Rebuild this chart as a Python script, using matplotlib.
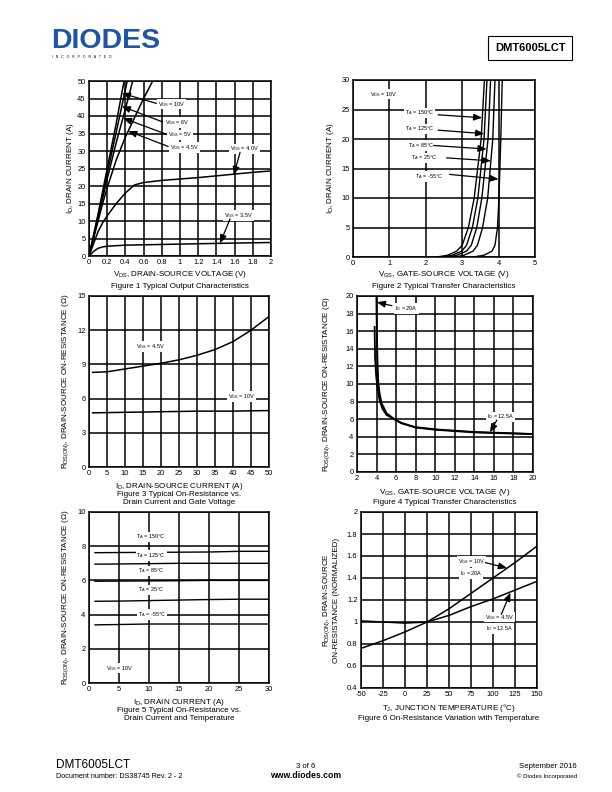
import numpy as np
import matplotlib.pyplot as plt
from matplotlib.lines import Line2D

plt.rcParams['font.family'] = ['Liberation Sans', 'DejaVu Sans']
plt.rcParams['mathtext.default'] = 'regular'
plt.rcParams['axes.unicode_minus'] = False

# ---- Figure 1 data: output characteristics
vds_10 = [0, 0.05, 0.1, 0.15, 0.2, 0.3, 0.385]
id_10 = [0, 6, 12, 18.5, 25, 38, 50]
vds_6 = [0, 0.05, 0.1, 0.15, 0.2, 0.3, 0.42]
id_6 = [0, 5.5, 11.5, 17.5, 23.5, 35.5, 50]
vds_5 = [0, 0.05, 0.1, 0.15, 0.2, 0.3, 0.4, 0.48]
id_5 = [0, 5.3, 11, 16.5, 22, 32.5, 42, 50]
vds_45 = [0, 0.05, 0.1, 0.15, 0.2, 0.3, 0.4, 0.5, 0.6, 0.7]
id_45 = [0, 5, 10, 15, 19.5, 27.5, 34, 39.5, 45, 50]
vds_40 = [0, 0.05, 0.1, 0.15, 0.2, 0.3, 0.4, 0.5, 0.6, 0.8, 1.0, 1.2, 1.4, 1.6, 1.8, 2.0]
id_40 = [0, 3.5, 7, 9.5, 11.5, 15, 18, 20.3, 21, 21.6, 22, 22.4, 22.9, 23.4, 23.9, 24.3]
vds_35 = [0, 0.05, 0.1, 0.15, 0.2, 0.4, 0.8, 1.2, 1.6, 2.0]
id_35 = [0, 1.3, 2.2, 2.6, 2.8, 3.1, 3.3, 3.5, 3.7, 3.85]

# ---- Figure 2 data: transfer characteristics (VDS = 10V)
id_tr = [0, 0.3, 1, 2, 5, 10, 20, 30]
vgs_150 = [2.3, 2.6, 2.85, 3.0, 3.17, 3.33, 3.52, 3.61]
vgs_125 = [2.45, 2.72, 2.99, 3.12, 3.28, 3.43, 3.60, 3.68]
vgs_85 = [2.6, 2.85, 3.12, 3.25, 3.40, 3.54, 3.71, 3.78]
vgs_25 = [2.8, 3.05, 3.30, 3.42, 3.56, 3.70, 3.84, 3.90]
vgs_m55 = [3.3, 3.6, 3.82, 3.90, 3.97, 4.01, 4.06, 4.10]

# ---- Figure 3 data: RDS(on) vs ID
id_r = [1, 5, 10, 15, 20, 25, 30, 35, 40, 45, 50]
r_45 = [8.3, 8.35, 8.6, 8.85, 9.1, 9.4, 9.8, 10.3, 11.0, 12.0, 13.2]
r_10 = [4.75, 4.77, 4.8, 4.82, 4.85, 4.87, 4.9, 4.9, 4.9, 4.93, 4.95]

# ---- Figure 4 data: RDS(on) vs VGS
vgs_20a = [3.98, 4.0, 4.05, 4.1, 4.18, 4.3, 4.52, 5.03, 5.71, 6.5, 7.5, 8, 10, 12, 14, 16, 18, 20]
r_20a = [20.5, 18, 15, 12.5, 10.1, 9, 7.8, 6.67, 6.1, 5.6, 5.25, 5.1, 4.85, 4.7, 4.55, 4.47, 4.4, 4.32]
vgs_125a = [3.8, 3.85, 3.95, 4.1, 4.3, 4.6, 5.0, 5.7, 6.5, 8, 10, 12, 14, 16, 18, 20]
r_125a = [16.5, 13, 11, 9.5, 8.2, 7.2, 6.5, 6.05, 5.55, 5.05, 4.8, 4.65, 4.5, 4.43, 4.37, 4.3]

# ---- Figure 5 data: RDS(on) vs ID and temperature
id_t = [1, 5, 10, 15, 20, 25, 30]
r_t150 = [7.62, 7.63, 7.64, 7.65, 7.66, 7.7, 7.7]
r_t125 = [6.95, 6.96, 6.98, 7.0, 7.0, 7.0, 7.0]
r_t85 = [5.95, 5.96, 5.97, 5.98, 6.0, 6.0, 6.0]
r_t25 = [4.78, 4.79, 4.82, 4.85, 4.88, 4.9, 4.9]
r_tm55 = [3.4, 3.42, 3.45, 3.45, 3.45, 3.45, 3.45]

# ---- Figure 6 data: normalized RDS(on) vs TJ
tj = [-50, -25, 0, 25, 50, 75, 100, 125, 150]
rn_10 = [0.76, 0.83, 0.91, 1.0, 1.12, 1.26, 1.40, 1.54, 1.69]
rn_45 = [1.01, 1.0, 0.99, 1.0, 1.06, 1.14, 1.21, 1.29, 1.37]

W, H = 612, 792
fig = plt.figure(figsize=(W / 100, H / 100), dpi=100)

TS = 5.4   # tick font size
LS = 5.8   # label font size
AS = 4.0   # annotation font size


def px_axes(l, t, r, b):
    return fig.add_axes([l / W, 1 - b / H, (r - l) / W, (b - t) / H])


def style(ax, xt, yt, xl, yl):
    ax.set_xlim(xl)
    ax.set_ylim(yl)
    ax.set_xticks(xt)
    ax.set_yticks(yt)
    ax.grid(True, color='black', lw=1.1)
    ax.set_axisbelow(True)
    for s in ax.spines.values():
        s.set_linewidth(1.1)
    ax.tick_params(length=0, labelsize=TS, pad=2.5)


def ftext(x, y, s, **kw):
    kw.setdefault('fontsize', LS)
    kw.setdefault('ha', 'center')
    kw.setdefault('va', 'center')
    fig.text(x / W, 1 - y / H, s, **kw)


def note(ax, s, xy, xytext=None, tip=None, ha='left'):
    box = dict(boxstyle='square,pad=0.15', fc='white', ec='none')
    ax.text(xy[0], xy[1], s, fontsize=AS, ha=ha, va='center', bbox=box)
    if tip is not None:
        ax.annotate('', xy=tip, xytext=xytext,
                    arrowprops=dict(arrowstyle='-|>,head_length=0.5,head_width=0.2',
                                    color='black', lw=0.9, shrinkA=0, shrinkB=0))


# ---------------- Figure 1
ax1 = px_axes(89, 81, 271, 256)
style(ax1, np.arange(0, 2.01, 0.2), np.arange(0, 51, 5), (0, 2), (0, 50))
ax1.set_xticklabels(['0', '0.2', '0.4', '0.6', '0.8', '1', '1.2', '1.4', '1.6', '1.8', '2'])
for x, y in [(vds_10, id_10), (vds_6, id_6), (vds_5, id_5), (vds_45, id_45),
             (vds_40, id_40), (vds_35, id_35)]:
    ax1.plot(x, y, color='black', lw=1.1)
note(ax1, '$V_{GS}$ = 10V', (0.76, 43.4), (0.74, 43.6), (0.36, 46.5))
note(ax1, '$V_{GS}$ = 6V', (0.83, 38.1), (0.81, 38.3), (0.36, 42.75))
note(ax1, '$V_{GS}$ = 5V', (0.87, 34.6), (0.85, 34.8), (0.373, 39.4))
note(ax1, '$V_{GS}$ = 4.5V', (0.89, 31.0), (0.87, 31.3), (0.43, 35.7))
note(ax1, '$V_{GS}$ = 4.0V', (1.55, 30.6), (1.66, 29.6), (1.59, 23.1))
note(ax1, '$V_{GS}$ = 3.5V', (1.48, 11.5), (1.55, 10.6), (1.44, 3.6))
ftext(180, 275, '$V_{DS}$, DRAIN-SOURCE VOLTAGE (V)')
ftext(180, 286, 'Figure 1 Typical Output Characteristics')
ftext(70, 168, '$I_D$, DRAIN CURRENT (A)', rotation=90)

# ---------------- Figure 2
ax2 = px_axes(353, 80, 535, 257)
style(ax2, np.arange(0, 6, 1), np.arange(0, 31, 5), (0, 5), (0, 30))
for v in [vgs_150, vgs_125, vgs_85, vgs_25, vgs_m55]:
    ax2.plot(v, id_tr, color='black', lw=1.0)
note(ax2, '$V_{DS}$ = 10V', (0.46, 27.6))
note(ax2, '$T_A$ = 150°C', (1.43, 24.4), (2.34, 24.1), (3.55, 23.6))
note(ax2, '$T_A$ = 125°C', (1.43, 21.7), (2.34, 21.5), (3.606, 20.9))
note(ax2, '$T_A$ = 85°C', (1.5, 18.9), (2.21, 18.9), (3.67, 18.3))
note(ax2, '$T_A$ = 25°C', (1.59, 16.8), (2.57, 16.8), (3.79, 16.3))
note(ax2, '$T_A$ = -55°C', (1.69, 13.6), (2.65, 14.0), (4.0, 13.2))
ftext(444, 275, '$V_{GS}$, GATE-SOURCE VOLTAGE (V)')
ftext(444, 286, 'Figure 2 Typical Transfer Characteristics')
ftext(330, 168, '$I_D$, DRAIN CURRENT (A)', rotation=90)

# ---------------- Figure 3
ax3 = px_axes(89, 296, 269, 467)
style(ax3, np.arange(0, 51, 5), np.arange(0, 16, 3), (0, 50), (0, 15))
ax3.plot(id_r, r_45, color='black', lw=1.1)
ax3.plot(id_r, r_10, color='black', lw=1.1)
note(ax3, '$V_{GS}$ = 4.5V', (17, 10.55), ha='center')
note(ax3, '$V_{GS}$ = 10V', (42.3, 6.2), ha='center')
ftext(179, 486, '$I_D$, DRAIN-SOURCE CURRENT (A)')
ftext(179, 495, 'Figure 3 Typical On-Resistance vs.')
ftext(179, 503, 'Drain Current and Gate Voltage')
ftext(66, 381, '$R_{DS(ON)}$, DRAIN-SOURCE ON-RESISTANCE (Ω)', rotation=90)

# ---------------- Figure 4
ax4 = px_axes(357, 296, 533, 472)
style(ax4, np.arange(2, 21, 2), np.arange(0, 21, 2), (2, 20), (0, 20))
ax4.plot(vgs_20a, r_20a, color='black', lw=1.3)
ax4.plot(vgs_125a, r_125a, color='black', lw=1.3)
note(ax4, '$I_D$ = 20A', (5.9, 18.6), (5.57, 18.9), (4.02, 19.3))
note(ax4, '$I_D$ = 12.5A', (15.3, 6.25), (16.3, 5.9), (15.6, 4.5))
ftext(445, 492, '$V_{GS}$, GATE-SOURCE VOLTAGE (V)')
ftext(445, 502, 'Figure 4 Typical Transfer Characteristics')
ftext(327, 384, '$R_{DS(ON)}$, DRAIN-SOURCE ON-RESISTANCE (Ω)', rotation=90)

# ---------------- Figure 5
ax5 = px_axes(89, 512, 269, 683)
style(ax5, np.arange(0, 31, 5), np.arange(0, 11, 2), (0, 30), (0, 10))
for r in [r_t150, r_t125, r_t85, r_t25, r_tm55]:
    ax5.plot(id_t, r, color='black', lw=1.0)
note(ax5, '$T_A$ = 150°C', (7.9, 8.54))
note(ax5, '$T_A$ = 125°C', (7.9, 7.44))
note(ax5, '$T_A$ = 85°C', (8.2, 6.56))
note(ax5, '$T_A$ = 25°C', (8.2, 5.44))
note(ax5, '$T_A$ = -55°C', (8.2, 4.02))
note(ax5, '$V_{GS}$ = 10V', (2.9, 0.87))
ftext(179, 703, '$I_D$, DRAIN CURRENT (A)')
ftext(179, 711, 'Figure 5 Typical On-Resistance vs.')
ftext(179, 719, 'Drain Current and Temperature')
ftext(66, 597, '$R_{DS(ON)}$, DRAIN-SOURCE ON-RESISTANCE (Ω)', rotation=90)

# ---------------- Figure 6
ax6 = px_axes(361, 512, 537, 688)
style(ax6, np.arange(-50, 151, 25), np.arange(0.4, 2.01, 0.2), (-50, 150), (0.4, 2))
ax6.set_yticklabels(['0.4', '0.6', '0.8', '1', '1.2', '1.4', '1.6', '1.8', '2'])
ax6.plot(tj, rn_10, color='black', lw=1.1)
ax6.plot(tj, rn_45, color='black', lw=1.1)
note(ax6, '$V_{GS}$ = 10V', (60.4, 1.55), (91.4, 1.54), (116, 1.49))
note(ax6, '$I_D$ = 20A', (62, 1.44))
note(ax6, '$V_{GS}$ = 4.5V', (90.6, 1.045), (109.5, 1.07), (119.8, 1.267))
note(ax6, '$I_D$ = 12.5A', (92, 0.94))
ftext(449, 708, '$T_J$, JUNCTION TEMPERATURE (°C)')
ftext(449, 718, 'Figure 6 On-Resistance Variation with Temperature')
ftext(327, 600, '$R_{DS(ON)}$, DRAIN-SOURCE', rotation=90)
ftext(337, 600, 'ON-RESISTANCE (NORMALIZED)', rotation=90)

# ---------------- header / footer
ftext(51, 41, 'DIODES', ha='left', fontsize=20.5, fontweight='bold', color='#1f55a5')
fig.add_artist(Line2D([50 / W, 160 / W], [1 - 42 / H, 1 - 42 / H], color='white', lw=1.0))
ftext(52, 57, 'I   N   C   O   R   P   O   R   A   T   E   D', ha='left', fontsize=2.4)
fig.text(530 / W, 1 - 48 / H, 'DMT6005LCT', fontsize=8.0, fontweight='bold',
         ha='center', va='center',
         bbox=dict(boxstyle='square,pad=0.6', fc='white', ec='black', lw=0.8))
ftext(56, 765, 'DMT6005LCT', ha='left', fontsize=8.5)
ftext(56, 777, 'Document number: DS38745 Rev. 2 - 2', ha='left', fontsize=5.2)
ftext(306, 766, '3 of 6', fontsize=5.6)
ftext(306, 776, 'www.diodes.com', fontsize=6.2, fontweight='bold')
ftext(577, 766, 'September 2016', ha='right', fontsize=5.6)
ftext(577, 776, '© Diodes Incorporated', ha='right', fontsize=4.3)

fig.savefig('out.png', dpi=100)
